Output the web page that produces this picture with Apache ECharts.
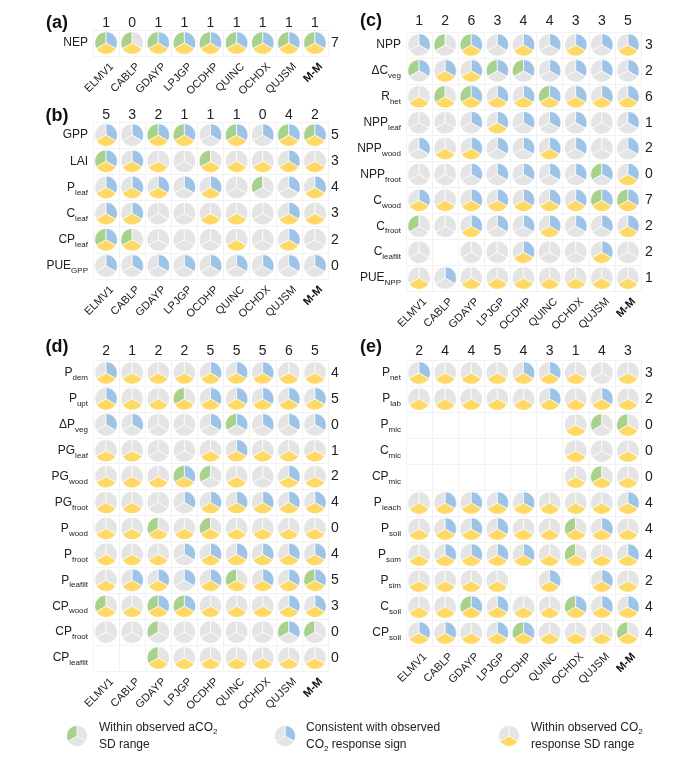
<!DOCTYPE html>
<html><head><meta charset="utf-8">
<script src="https://cdn.jsdelivr.net/npm/echarts@6/dist/echarts.min.js"></script>
<style>html,body{margin:0;padding:0;background:#fff}#c{width:699px;height:765px}</style>
</head><body><div id="c"></div>
<script>
// ---------- DATA ----------
const models = ['ELMV1','CABLP','GDAYP','LPJGP','OCDHP','QUINC','OCHDX','QUJSM','M-M'];

// cell codes: G = within observed aCO2 SD range, B = consistent CO2 response sign,
// Y = within observed CO2 response SD range, '.' = not met, null = not simulated
const rowsA = ['NEP'];
const topA = [1,0,1,1,1,1,1,1,1];
const rightA = [7];
const cellsA = [
  ['GBY','G.Y','GBY','GBY','GBY','GBY','GBY','GBY','GBY']
];

const rowsB = ['GPP','LAI','P_leaf','C_leaf','CP_leaf','PUE_GPP'];
const topB = [5,3,2,1,1,1,0,4,2];
const rightB = [5,3,4,3,2,0];
const cellsB = [
  ['.BY','.B.','GBY','GBY','.B.','GBY','.B.','GBY','GBY'],
  ['GBY','.BY','..Y','...','G.Y','..Y','..Y','.BY','..Y'],
  ['.BY','.BY','.BY','.B.','.BY','...','G..','.B.','.BY'],
  ['.BY','.BY','...','...','..Y','..Y','...','.BY','..Y'],
  ['GBY','G.Y','...','...','...','..Y','...','.BY','...'],
  ['.B.','.B.','.B.','.B.','.B.','.B.','.B.','.B.','.B.']
];

const rowsC = ['NPP','ΔC_veg','R_het','NPP_leaf','NPP_wood','NPP_froot','C_wood','C_froot','C_leaflit','PUE_NPP'];
const topC = [1,2,6,3,4,4,3,3,5];
const rightC = [3,2,6,1,2,0,7,2,2,1];
const cellsC = [
  ['.B.','G..','GBY','.B.','.BY','.B.','.BY','.B.','.BY'],
  ['GB.','.BY','.BY','GB.','GB.','.B.','.B.','.B.','.B.'],
  ['..Y','G.Y','GBY','.BY','.BY','GBY','.BY','.BY','.BY'],
  ['...','...','.B.','.BY','.B.','.B.','.B.','...','.B.'],
  ['.B.','..Y','.BY','.B.','.B.','.BY','.B.','...','.B.'],
  ['...','...','.B.','.B.','.B.','.B.','.B.','GB.','.BY'],
  ['.BY','..Y','.BY','.BY','.BY','.BY','.BY','GBY','GBY'],
  ['G..','...','.BY','.B.','.B.','.BY','.B.','.B.','.BY'],
  ['...',null,'...','...','.BY','...','...','.BY','...'],
  ['..Y','.B.','..Y','..Y','..Y','..Y','..Y','..Y','..Y']
];

const rowsD = ['P_dem','P_upt','ΔP_veg','PG_leaf','PG_wood','PG_froot','P_wood','P_froot','P_leaflit','CP_wood','CP_froot','CP_leaflit'];
const topD = [2,1,2,2,5,5,5,6,5];
const rightD = [4,5,0,1,2,4,0,4,5,3,0,0];
const cellsD = [
  ['.BY','..Y','..Y','..Y','.BY','.BY','.BY','..Y','..Y'],
  ['.BY','..Y','..Y','G.Y','.BY','.BY','.BY','.BY','.BY'],
  ['.B.','.B.','...','...','.B.','GB.','.B.','.B.','.B.'],
  ['..Y','..Y','...','...','..Y','.BY','..Y','..Y','..Y'],
  ['..Y','..Y','..Y','GBY','G..','..Y','...','.BY','..Y'],
  ['..Y','..Y','...','.B.','.BY','.BY','.BY','.BY','.BY'],
  ['..Y','..Y','G.Y','..Y','G.Y','..Y','..Y','..Y','..Y'],
  ['..Y','..Y','..Y','.B.','.BY','.BY','.BY','.BY','.BY'],
  ['..Y','.BY','.BY','.B.','.BY','G.Y','.BY','.BY','GBY'],
  ['G.Y','..Y','GBY','GBY','..Y','..Y','..Y','.BY','.BY'],
  ['...','...','G..','...','...','...','...','GB.','G..'],
  [null,null,'G.Y','..Y','..Y','..Y','..Y','..Y','..Y']
];

const rowsE = ['P_net','P_lab','P_mic','C_mic','CP_mic','P_leach','P_soil','P_som','P_sim','C_soil','CP_soil'];
const topE = [2,4,4,5,4,3,1,4,3];
const rightE = [3,2,0,0,0,4,4,4,2,4,4];
const cellsE = [
  ['.BY','..Y','..Y','..Y','.BY','.BY','..Y','...','..Y'],
  ['..Y','..Y','..Y','..Y','..Y','.BY','..Y','.BY','..Y'],
  [null,null,null,null,null,null,'..Y','G..','G.Y'],
  [null,null,null,null,null,null,'..Y','...','..Y'],
  [null,null,null,null,null,null,'..Y','G.Y','..Y'],
  ['..Y','.BY','.BY','.BY','.BY','..Y','..Y','..Y','.BY'],
  ['..Y','.BY','.BY','.BY','..Y','..Y','G.Y','.BY','..Y'],
  ['..Y','.BY','.BY','.BY','.BY','..Y','G.Y','..Y','.BY'],
  ['..Y','..Y','..Y','..Y',null,'.BY',null,'.BY','..Y'],
  ['..Y','..Y','GBY','.BY','..Y','..Y','GBY','.BY','.BY'],
  ['.BY','.BY','..Y','.BY','GBY','..Y','..Y','..Y','G.Y']
];

const legendTexts = [
  '{m|Within observed aCO}{s|2}\n{m|SD range}',
  '{m|Consistent with observed}\n{m|CO}{s|2}{m| response sign}',
  '{m|Within observed CO}{s|2}\n{m|response SD range}'
];
const legendCodes = ['G..', '.B.', '..Y'];

// ---------- STYLE / LAYOUT ----------
const GREEN = '#A9D18E', BLUE = '#9DC3E6', YELLOW = '#FFD966', GREY = '#E4E4E4';
const FONT = "'Liberation Sans', Arial, sans-serif";
const panels = [
  {tag:'(a)', rows:rowsA, top:topA, right:rightA, cells:cellsA, g:{left:93, top:30, width:235, height:26}, tm:0, rm:3, lab:[57,23]},
  {tag:'(b)', rows:rowsB, top:topB, right:rightB, cells:cellsB, g:{left:93, top:122, width:235, height:157}, tm:0, rm:3, lab:[57,116]},
  {tag:'(c)', rows:rowsC, top:topC, right:rightC, cells:cellsC, g:{left:406, top:32, width:235, height:259}, tm:4, rm:4, lab:[371,21]},
  {tag:'(d)', rows:rowsD, top:topD, right:rightD, cells:cellsD, g:{left:93, top:360, width:235, height:311}, tm:2, rm:3, lab:[57,347]},
  {tag:'(e)', rows:rowsE, top:topE, right:rightE, cells:cellsE, g:{left:406, top:360, width:235, height:286}, tm:2, rm:4, lab:[371,347]}
];

function bits(code) {
  return (code[0] === 'G' ? 4 : 0) | (code[1] === 'B' ? 2 : 0) | (code[2] === 'Y' ? 1 : 0);
}
function rowRich(name) {
  const i = name.indexOf('_');
  if (i < 0) return '{m|' + name + '}';
  return '{m|' + name.slice(0, i) + '}{s|' + name.slice(i + 1) + '}';
}
const SLICES = [
  [4, GREEN, 5 * Math.PI / 6, 3 * Math.PI / 2],
  [2, BLUE, -Math.PI / 2, Math.PI / 6],
  [1, YELLOW, Math.PI / 6, 5 * Math.PI / 6]
];
function renderPie(params, api) {
  const c = api.coord([api.value(0), api.value(1)]);
  const s = api.size([1, 1]);
  const r = Math.min(s[0], s[1]) * 0.435;
  const b = api.value(2);
  return {
    type: 'group',
    children: SLICES.map(d => ({
      type: 'sector',
      shape: {cx: c[0], cy: c[1], r: r, r0: 0, startAngle: d[2], endAngle: d[3], clockwise: true},
      style: {fill: (b & d[0]) ? d[1] : GREY, stroke: '#fff', lineWidth: 0.7}
    }))
  };
}

const grid = [], xAxis = [], yAxis = [], series = [], graphic = [];
const noLine = {show: false}, noTick = {show: false};
panels.forEach(p => {
  const gi = grid.length;
  grid.push(Object.assign({}, p.g));
  grid.push(Object.assign({}, p.g, {left: p.g.left + 6}));
  const xMain = xAxis.length;
  xAxis.push({gridIndex: gi, type: 'category', data: models, position: 'bottom',
    axisLine: noLine, axisTick: noTick, axisLabel: {show: false},
    splitLine: {show: true, interval: 0, lineStyle: {color: '#F2F2F2', width: 1}}});
  xAxis.push({gridIndex: gi, type: 'category', data: p.top.map(String), position: 'top',
    axisLine: noLine, axisTick: noTick,
    axisLabel: {interval: 0, margin: p.tm, fontSize: 14, color: '#222', fontFamily: FONT}});
  xAxis.push({gridIndex: gi + 1, type: 'category', data: models, position: 'bottom',
    axisLine: noLine, axisTick: noTick,
    axisLabel: {interval: 0, rotate: 45, margin: 9, fontFamily: FONT, color: '#222',
      formatter: v => v === 'M-M' ? '{b|M-M}' : '{n|' + v + '}',
      rich: {n: {fontSize: 11, fontFamily: FONT, color: '#222'},
             b: {fontSize: 11, fontWeight: 'bold', fontFamily: FONT, color: '#111'}}}});
  const yMain = yAxis.length;
  yAxis.push({gridIndex: gi, type: 'category', data: p.rows, inverse: true, position: 'left',
    axisLine: noLine, axisTick: noTick,
    splitLine: {show: true, interval: 0, lineStyle: {color: '#F2F2F2', width: 1}},
    axisLabel: {interval: 0, margin: 5, formatter: rowRich,
      rich: {m: {fontSize: 12, fontFamily: FONT, color: '#222', lineHeight: 18, verticalAlign: 'middle'},
             s: {fontSize: 8, fontFamily: FONT, color: '#222', lineHeight: 18, verticalAlign: 'bottom'}}}});
  yAxis.push({gridIndex: gi, type: 'category', data: p.right.map(String), inverse: true, position: 'right',
    axisLine: noLine, axisTick: noTick,
    axisLabel: {interval: 0, margin: p.rm, fontSize: 14, color: '#222', fontFamily: FONT}});
  yAxis.push({gridIndex: gi + 1, type: 'category', data: p.rows, inverse: true, show: false});
  const data = [];
  p.cells.forEach((row, ri) => row.forEach((code, ci) => {
    if (code !== null) data.push([ci, ri, bits(code)]);
  }));
  series.push({type: 'custom', xAxisIndex: xMain, yAxisIndex: yMain, renderItem: renderPie,
    data: data, silent: true, clip: false});
  graphic.push({type: 'text', x: p.lab[0], y: p.lab[1],
    style: {text: p.tag, fontSize: 18, fontWeight: 'bold', fontFamily: FONT, fill: '#111',
      align: 'center', verticalAlign: 'middle'}});
});

// legend
const legendPos = [[77, 99], [285, 306], [509, 531]];
legendCodes.forEach((code, i) => {
  const b = bits(code);
  series.push({type: 'pie', center: [legendPos[i][0], 736], radius: 10.5, startAngle: 90,
    clockwise: true, silent: true, label: {show: false}, labelLine: {show: false},
    itemStyle: {borderColor: '#fff', borderWidth: 0.7},
    data: [
      {value: 1, itemStyle: {color: (b & 2) ? BLUE : GREY}},
      {value: 1, itemStyle: {color: (b & 1) ? YELLOW : GREY}},
      {value: 1, itemStyle: {color: (b & 4) ? GREEN : GREY}}
    ]});
  graphic.push({type: 'text', x: legendPos[i][1], y: 736,
    style: {text: legendTexts[i], verticalAlign: 'middle', align: 'left',
      rich: {m: {fontSize: 12, fontFamily: FONT, fill: '#222', lineHeight: 17, verticalAlign: 'middle'},
             s: {fontSize: 8, fontFamily: FONT, fill: '#222', lineHeight: 17, verticalAlign: 'bottom'}}}});
});

const chart = echarts.init(document.getElementById('c'), null, {renderer: 'canvas'});
chart.setOption({animation: false, backgroundColor: '#fff', grid, xAxis, yAxis, series, graphic});
</script></body></html>
